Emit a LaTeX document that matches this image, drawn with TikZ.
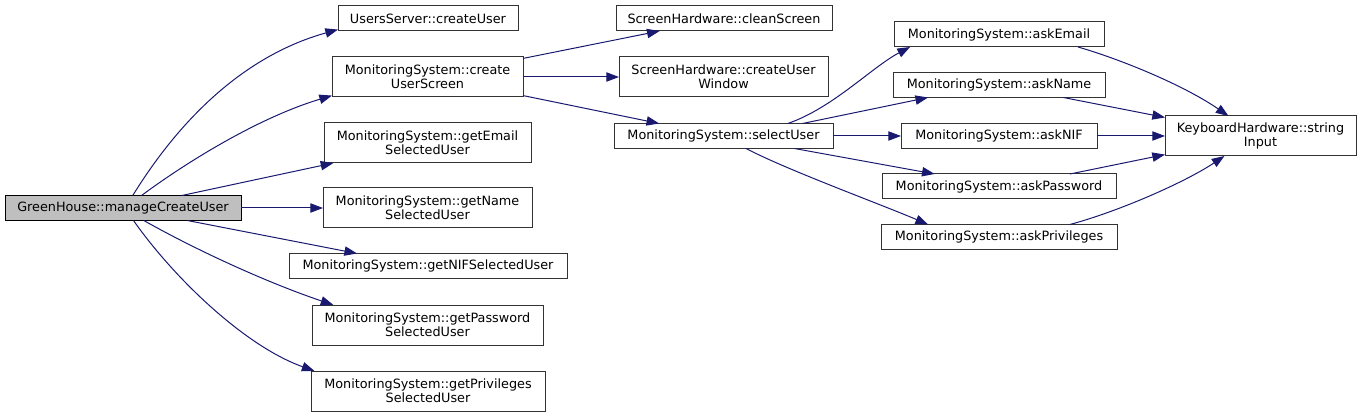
\documentclass[tikz,border=0pt]{standalone}
\usepackage{fontspec}
\setmainfont{DejaVu Sans}
\usetikzlibrary{arrows.meta}
\definecolor{edgeblue}{HTML}{191970}
\definecolor{rootgray}{HTML}{BFBFBF}

\begin{document}
\begin{tikzpicture}[x=0.75pt, y=-0.75pt,
        fn/.style={draw=black!80, line width=0.75pt, inner sep=0pt, outer sep=0pt, align=center,
            minimum height=18.75pt, font=\fontsize{9.6}{10.8}\selectfont},
        fntwo/.style={fn, minimum height=30pt},
        call/.style={draw=edgeblue, line width=0.75pt, -{Triangle[length=9.5pt, width=7pt]}}]
                \useasboundingbox (0,0) rectangle (1361,417);
                \node[fn, fill=rootgray, draw=black, minimum width=177pt] (manage) at (123,208) {GreenHouse::manageCreateUser};
                \node[fn, minimum width=135pt] (createuser) at (428,18.5) {UsersServer::createUser};
                \node[fntwo, minimum width=143.25pt] (userscreen) at (427.5,77) {MonitoringSystem::create\\UserScreen};
                \node[fntwo, minimum width=155.25pt] (getemail) at (427.5,143) {MonitoringSystem::getEmail\\SelectedUser};
                \node[fntwo, minimum width=156.75pt] (getname) at (427.5,208) {MonitoringSystem::getName\\SelectedUser};
                \node[fn, minimum width=208.5pt] (getnif) at (428,266) {MonitoringSystem::getNIFSelectedUser};
                \node[fntwo, minimum width=173.25pt] (getpassword) at (427.5,325) {MonitoringSystem::getPassword\\SelectedUser};
                \node[fntwo, minimum width=175.5pt] (getprivileges) at (428,391) {MonitoringSystem::getPrivileges\\SelectedUser};
                \node[fn, minimum width=162pt] (cleanscreen) at (724,18.5) {ScreenHardware::cleanScreen};
                \node[fntwo, minimum width=156.75pt] (userwindow) at (723.5,77) {ScreenHardware::createUser\\Window};
                \node[fn, minimum width=164.25pt] (selectuser) at (723.5,136) {MonitoringSystem::selectUser};
                \node[fn, minimum width=157.5pt] (askemail) at (999,34.5) {MonitoringSystem::askEmail};
                \node[fn, minimum width=159pt] (askname) at (999,85) {MonitoringSystem::askName};
                \node[fn, minimum width=147pt] (asknif) at (999,136) {MonitoringSystem::askNIF};
                \node[fn, minimum width=175.5pt] (askpassword) at (999,186.5) {MonitoringSystem::askPassword};
                \node[fn, minimum width=177pt] (askprivileges) at (999,237) {MonitoringSystem::askPrivileges};
                \node[fntwo, minimum width=143.25pt] (stringinput) at (1260.5,136) {KeyboardHardware::string\\Input};
                \draw[call] (manage.52) .. controls +(50,-81) and +(-90,25) .. (createuser.187);
                \draw[call] (manage.34) .. controls +(50,-37) and +(-70,21) .. (userscreen.191);
                \draw[call] (manage.12) -- (getemail.192);
                \draw[call] (manage.east) -- (getname.west);
                \draw[call] (manage.-11) -- (getnif.170);
                \draw[call] (manage.-31) .. controls +(55,31) and +(-65,-22) .. (getpassword.168);
                \draw[call] (manage.-50) .. controls +(40,57) and +(-70,-25) .. (getprivileges.170);
                \draw[call] (userscreen.11) -- (cleanscreen.191);
                \draw[call] (userscreen.east) -- (userwindow.west);
                \draw[call] (userscreen.-11) -- (selectuser.169);
                \draw[call] (selectuser.11) .. controls +(45,-15.5) and +(-38,20) .. (askemail.188);
                \draw[call] (selectuser.9) -- (askname.190);
                \draw[call] (selectuser.east) -- (asknif.west);
                \draw[call] (selectuser.-10) -- (askpassword.169);
                \draw[call] (selectuser.-29) .. controls +(41,21.5) and +(-48,-20.5) .. (askprivileges.170);
                \draw[call] (askemail.-9) .. controls +(42,12) and +(-45,-31) .. (stringinput.148);
                \draw[call] (askname.-11) -- (stringinput.169);
                \draw[call] (asknif.east) -- (stringinput.west);
                \draw[call] (askpassword.10) -- (stringinput.191);
                \draw[call] (askprivileges.10) .. controls +(50,-13.5) and +(-39,26) .. (stringinput.209);
            \end{tikzpicture}
\end{document}
